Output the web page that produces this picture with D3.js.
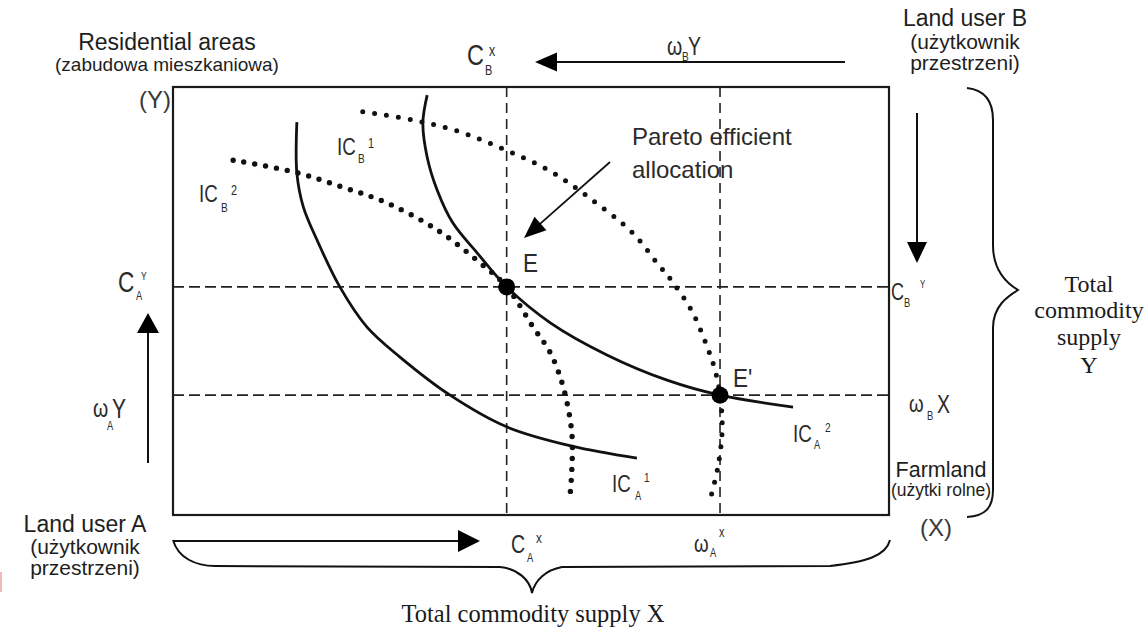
<!DOCTYPE html>
<html>
<head>
<meta charset="utf-8">
<script src="https://cdn.jsdelivr.net/npm/d3@7"></script>
<style>
  html, body { margin: 0; padding: 0; background: #fff; }
  svg { display: block; }
  .narrow { font-family: "Liberation Sans", Arial, Helvetica, sans-serif; fill: #2b2b2b; }
  .sans { font-family: "Liberation Sans", Arial, Helvetica, sans-serif; fill: #1e1e1e; }
  .serif { font-family: "Liberation Serif", "Times New Roman", serif; fill: #1a1a1a; }
</style>
</head>
<body>
<svg id="chart" width="1145" height="630"></svg>
<script>
// ---------------- DATA (box units 0..100) ----------------
const xDomain = [0, 100];   // total commodity supply X (A's origin at left)
const yDomain = [0, 100];   // total commodity supply Y (A's origin at bottom)

// Indifference curves of land user A (solid)
const icA1 = [[17.3,91.8],[17.3,79.9],[18.2,72.0],[20.1,64.3],[23.3,53.3],[27.1,43.9],
              [31.7,36.9],[38.7,28.0],[46.6,20.6],[55.7,16.1],[64.8,13.3]];
const icA2 = [[35.5,98.1],[34.9,91.6],[35.5,83.6],[36.9,75.9],[39.1,68.2],[42.5,61.2],
              [46.6,53.3],[52.7,44.9],[60.6,37.4],[69.0,31.5],[76.4,28.0],[86.6,25.2]];
// Indifference curves of land user B (dotted)
const icB1 = [[26.5,94.2],[33.5,92.3],[40.1,89.5],[46.4,85.3],[52.4,80.6],[58.0,74.3],
              [64.2,65.9],[67.6,58.9],[69.8,54.4],[72.6,47.2],[74.6,39.3],[75.7,33.9],
              [76.4,28.0],[76.7,19.9],[76.1,11.2],[75.0,3.5]];
const icB2 = [[8.4,82.9],[17.0,80.1],[23.7,76.6],[29.9,72.9],[36.9,66.6],[42.9,58.9],
              [46.6,53.3],[50.3,43.9],[52.7,37.9],[54.5,29.9],[55.7,19.2],[55.7,10.5],[55.4,3.5]];

// Allocations
const pointE  = [46.6, 53.3];   // Pareto efficient allocation E
const pointE2 = [76.4, 28.0];   // endowment E'
const guideX = [46.6, 76.4];    // C_A^x, ω_A^x
const guideY = [53.3, 28.0];    // C_A^Y, ω_A^Y

// ---------------- SCALES ----------------
const svg = d3.select("#chart");
const x = d3.scaleLinear().domain(xDomain).range([173, 889]);
const y = d3.scaleLinear().domain(yDomain).range([515, 87]);

const line = d3.line().x(d => x(d[0])).y(d => y(d[1])).curve(d3.curveCatmullRom.alpha(0.5));

// ---------------- BOX ----------------
svg.append("rect")
  .attr("x", x(0)).attr("y", y(100))
  .attr("width", x(100) - x(0)).attr("height", y(0) - y(100))
  .attr("fill", "none").attr("stroke", "#1a1a1a").attr("stroke-width", 2.2);

// dashed guides
svg.selectAll(".gx").data(guideX).join("line")
  .attr("x1", d => x(d)).attr("x2", d => x(d))
  .attr("y1", y(100)).attr("y2", y(0))
  .attr("stroke", "#222").attr("stroke-width", 1.6).attr("stroke-dasharray", "10 6");
svg.selectAll(".gy").data(guideY).join("line")
  .attr("y1", d => y(d)).attr("y2", d => y(d))
  .attr("x1", x(0)).attr("x2", x(100))
  .attr("stroke", "#222").attr("stroke-width", 1.6).attr("stroke-dasharray", "11 5");

// curves
[icA1, icA2].forEach(c => svg.append("path").attr("d", line(c))
  .attr("fill", "none").attr("stroke", "#111").attr("stroke-width", 2.8));
svg.append("path").attr("d", line(icB1))
  .attr("fill", "none").attr("stroke", "#111").attr("stroke-width", 5)
  .attr("stroke-linecap", "round").attr("stroke-dasharray", "0 12");
svg.append("path").attr("d", line(icB2))
  .attr("fill", "none").attr("stroke", "#111").attr("stroke-width", 5.4)
  .attr("stroke-linecap", "round").attr("stroke-dasharray", "0 11");

// points
svg.selectAll(".pt").data([pointE, pointE2]).join("circle")
  .attr("cx", d => x(d[0])).attr("cy", d => y(d[1])).attr("r", 8.5).attr("fill", "#000");

// ---------------- ARROWS ----------------
function arrow(x1, y1, x2, y2, hl, hw, sw) {
  const dx = x2 - x1, dy = y2 - y1, L = Math.hypot(dx, dy);
  const ux = dx / L, uy = dy / L;
  const bx = x2 - ux * hl, by = y2 - uy * hl;
  svg.append("line").attr("x1", x1).attr("y1", y1).attr("x2", bx + ux).attr("y2", by + uy)
    .attr("stroke", "#111").attr("stroke-width", sw);
  svg.append("path")
    .attr("d", `M${x2},${y2}L${bx - uy * hw},${by + ux * hw}L${bx + uy * hw},${by - ux * hw}Z`)
    .attr("fill", "#000");
}
arrow(845, 62, 535, 62, 22, 9.5, 2);     // top: B's X
arrow(917, 113, 917, 263, 21, 10, 2);    // right: B's Y
arrow(148, 463, 148, 313, 20, 11, 2);    // left: A's Y
arrow(173, 541, 480, 541, 22, 11, 2);    // bottom: A's X
arrow(610, 162, 524, 238, 22, 9, 1.8);   // Pareto pointer

// ---------------- BRACES ----------------
svg.append("path")
  .attr("d", "M967,88 C985,90 993,102 993,120 L993,245 C993,272 1008,284 1018,290 C1008,296 993,306 993,328 L993,490 C993,508 985,516 967,517")
  .attr("fill", "none").attr("stroke", "#111").attr("stroke-width", 2);
svg.append("path")
  .attr("d", "M173,540 C178,558 196,566 215,566 L500,567 C518,569 530,580 532,593 C535,580 546,570 562,567 L830,566 C866,562 886,556 890,540")
  .attr("fill", "none").attr("stroke", "#111").attr("stroke-width", 2);

// ---------------- LABELS ----------------
function sym(txt, px, py, size, sx) {
  svg.append("text").attr("class", "narrow")
    .attr("transform", `translate(${px},${py}) scale(${sx},1)`)
    .style("font-size", size + "px").text(txt);
}
// [text, x, y, size, horizontal scale]
const plainLabels = [
  ["Pareto efficient", 632, 145, 24, 1.0],
  ["allocation", 632, 178, 24, 1.0],
  ["E", 523, 272, 25, 0.9],
  ["E'", 733, 387, 25, 0.9]
];
plainLabels.forEach(d => sym(d[0], d[1], d[2], d[3], d[4]));

// [base, bx, by, bsize, sub, sx, sy, ssize, sup, px, py, psize]
const symLabels = [
  ["C", 467, 65, 30, "B", 485, 75, 14, "x", 489, 56, 16],
  ["ω", 667, 55, 25, "B", 682, 61, 13, "", 0, 0, 0],
  ["Y", 688, 55, 25, "", 0, 0, 0, "", 0, 0, 0],
  ["IC", 337, 155, 24, "B", 358, 163, 13, "1", 368, 148, 14],
  ["IC", 199, 202, 24, "B", 221, 212, 13, "2", 231, 195, 14],
  ["C", 118, 292, 29, "A", 136, 300, 12, "Y", 141, 280, 11],
  ["ω", 93, 417, 25, "A", 107, 430, 12, "", 0, 0, 0],
  ["Y", 112, 418, 27, "", 0, 0, 0, "", 0, 0, 0],
  ["C", 891, 300, 23, "B", 904, 307, 12, "Y", 920, 288, 10],
  ["ω", 909, 412, 24, "B", 927, 420, 12, "", 0, 0, 0],
  ["X", 937, 413, 25, "", 0, 0, 0, "", 0, 0, 0],
  ["IC", 793, 442, 24, "A", 814, 449, 12, "2", 825, 432, 13],
  ["IC", 612, 492, 24, "A", 635, 500, 12, "1", 644, 482, 13],
  ["C", 511, 553, 25, "A", 527, 562, 12, "x", 536, 543, 15],
  ["ω", 694, 552, 24, "A", 710, 557, 12, "x", 719, 537, 14]
];
const SX = 0.78;
symLabels.forEach(d => {
  sym(d[0], d[1], d[2], d[3], SX);
  if (d[4]) sym(d[4], d[5], d[6], d[7], SX);
  if (d[8]) sym(d[8], d[9], d[10], d[11], SX);
});

// Overlay captions (centered)
const captions = [
  ["Residential areas", 167, 50, 23, "sans", "#1e1e1e"],
  ["(zabudowa mieszkaniowa)", 167, 71, 19, "sans", "#1e1e1e"],
  ["Land user B", 965, 26, 23, "sans", "#1e1e1e"],
  ["(użytkownik", 965, 49, 21, "sans", "#1e1e1e"],
  ["przestrzeni)", 965, 70, 21, "sans", "#1e1e1e"],
  ["Land user A", 85, 532, 23, "sans", "#1e1e1e"],
  ["(użytkownik", 85, 554, 21, "sans", "#1e1e1e"],
  ["przestrzeni)", 85, 575, 21, "sans", "#1e1e1e"],
  ["Farmland", 941, 477, 21.5, "sans", "#1e1e1e"],
  ["(użytki rolne)", 941, 496, 17.5, "sans", "#1e1e1e"],
  ["(Y)", 155, 108, 24, "sans", "#3a3a3a"],
  ["(X)", 936, 536, 24, "sans", "#3a3a3a"],
  ["Total", 1089, 292, 24, "serif", "#1a1a1a"],
  ["commodity", 1089, 318, 24, "serif", "#1a1a1a"],
  ["supply", 1089, 345, 24, "serif", "#1a1a1a"],
  ["Y", 1089, 373, 24, "serif", "#1a1a1a"],
  ["Total commodity supply X", 533, 622, 24.5, "serif", "#1a1a1a"]
];
captions.forEach(d => svg.append("text").attr("class", d[4])
  .attr("x", d[1]).attr("y", d[2]).attr("text-anchor", "middle")
  .style("font-size", d[3] + "px").style("fill", d[5]).text(d[0]));

// small pink scan mark at left edge
svg.append("rect").attr("x", 0).attr("y", 572).attr("width", 2).attr("height", 20).attr("fill", "#f4b8b8");
</script>
</body>
</html>
